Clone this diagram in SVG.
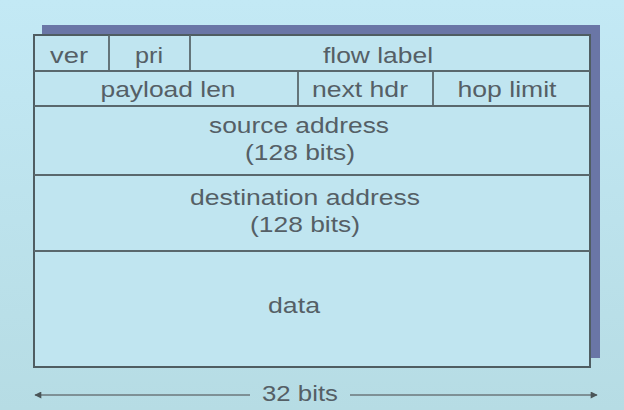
<svg xmlns="http://www.w3.org/2000/svg" width="624" height="410" viewBox="0 0 624 410">
<defs>
<linearGradient id="bg" x1="0" y1="0" x2="0" y2="1">
<stop offset="0" stop-color="#c3e9f5"/>
<stop offset="1" stop-color="#b6dce4"/>
</linearGradient>
<marker id="ah" viewBox="0 0 10 10" refX="9" refY="5" markerWidth="9" markerHeight="7" markerUnits="userSpaceOnUse" orient="auto-start-reverse">
<path d="M0,0 L10,5 L0,10 z" fill="#4a5558"/>
</marker>
<style>
.t{font-family:"Liberation Sans",Arial,sans-serif;font-size:22px;fill:#555f66;text-anchor:middle}
.box{stroke:#4f5d62;stroke-width:2;fill:#c0e5f0}
.sep{stroke:#5a686d;stroke-width:1.8}
</style>
</defs>
<rect width="624" height="410" fill="url(#bg)"/>
<rect id="shadow" x="42" y="25" width="558" height="333" fill="#6a76a6"/>
<g id="header">
<rect x="34" y="35" width="556" height="332" class="box"/>
<line class="sep" x1="34" y1="71" x2="590" y2="71"/>
<line class="sep" x1="34" y1="106" x2="590" y2="106"/>
<line class="sep" x1="34" y1="175" x2="590" y2="175"/>
<line class="sep" x1="34" y1="251" x2="590" y2="251"/>
<line class="sep" x1="109" y1="35" x2="109" y2="71"/>
<line class="sep" x1="190" y1="35" x2="190" y2="71"/>
<line class="sep" x1="298" y1="71" x2="298" y2="106"/>
<line class="sep" x1="433" y1="71" x2="433" y2="106"/>
</g>
<g id="ver"><text class="t" x="69" y="63" textLength="38" lengthAdjust="spacingAndGlyphs">ver</text></g>
<g id="pri"><text class="t" x="149" y="63" textLength="28" lengthAdjust="spacingAndGlyphs">pri</text></g>
<g id="flow-label"><text class="t" x="378" y="63" textLength="110" lengthAdjust="spacingAndGlyphs">flow label</text></g>
<g id="payload-len"><text class="t" x="168" y="97" textLength="135" lengthAdjust="spacingAndGlyphs">payload len</text></g>
<g id="next-hdr"><text class="t" x="360" y="97" textLength="96" lengthAdjust="spacingAndGlyphs">next hdr</text></g>
<g id="hop-limit"><text class="t" x="507" y="97" textLength="99" lengthAdjust="spacingAndGlyphs">hop limit</text></g>
<g id="source-address">
<text class="t" x="299" y="133" textLength="180" lengthAdjust="spacingAndGlyphs">source address</text>
<text class="t" x="300" y="160" textLength="110" lengthAdjust="spacingAndGlyphs">(128 bits)</text>
</g>
<g id="destination-address">
<text class="t" x="305" y="205" textLength="230" lengthAdjust="spacingAndGlyphs">destination address</text>
<text class="t" x="305" y="232" textLength="110" lengthAdjust="spacingAndGlyphs">(128 bits)</text>
</g>
<g id="data"><text class="t" x="294" y="313" textLength="52" lengthAdjust="spacingAndGlyphs">data</text></g>
<g id="connectors">
<line x1="250" y1="395" x2="35" y2="395" stroke="#6b777b" stroke-width="1.3" marker-end="url(#ah)"/>
<line x1="350" y1="395" x2="597" y2="395" stroke="#6b777b" stroke-width="1.3" marker-end="url(#ah)"/>
</g>
<g id="width-label"><text class="t" x="300" y="401" textLength="76" lengthAdjust="spacingAndGlyphs">32 bits</text></g>
</svg>
